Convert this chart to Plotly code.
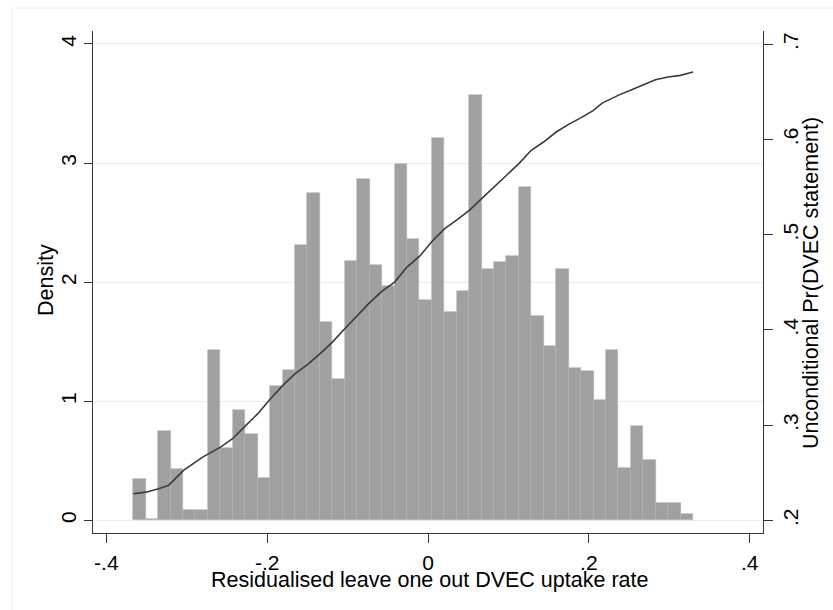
import plotly.graph_objects as go

# ---- data ----
bin_start = -0.3665
bin_width = 0.01547
density = [0.345, 0.01, 0.751, 0.434, 0.084, 0.09, 1.429, 0.608, 0.924, 0.728,
           0.356, 1.126, 1.266, 2.314, 2.745, 1.667, 1.185, 2.176, 2.866, 2.148,
           1.966, 2.989, 2.359, 1.851, 3.214, 1.751, 1.927, 3.571, 2.115, 2.168,
           2.216, 2.798, 1.714, 1.462, 2.115, 1.280, 1.255, 1.008, 1.429, 0.443,
           0.793, 0.504, 0.146, 0.146, 0.050]

line_x = [-0.3665, -0.3507, -0.335, -0.3226, -0.304, -0.2803, -0.258, -0.2431,
          -0.2265, -0.2116, -0.1959, -0.1805, -0.1652, -0.1495, -0.1342, -0.1189,
          -0.1035, -0.0878, -0.0725, -0.0571, -0.0414, -0.0261, -0.0104, 0.0054,
          0.0207, 0.0364, 0.0513, 0.0667, 0.082, 0.0977, 0.113, 0.1284, 0.1437,
          0.1594, 0.1748, 0.1905, 0.2058, 0.2166, 0.2364, 0.2518, 0.2675, 0.2828,
          0.2985, 0.3139, 0.3296]
line_pr = [0.228, 0.2297, 0.2333, 0.2368, 0.2525, 0.2665, 0.277, 0.2858,
           0.2998, 0.3121, 0.3278, 0.3418, 0.3541, 0.3639, 0.3751, 0.3873,
           0.4013, 0.4153, 0.4287, 0.4409, 0.4503, 0.4661, 0.4775, 0.4935,
           0.5064, 0.5159, 0.5256, 0.5379, 0.5501, 0.5624, 0.5747, 0.5887, 0.5974,
           0.6079, 0.616, 0.623, 0.6307, 0.6383, 0.6464, 0.6517, 0.6577, 0.6629,
           0.6657, 0.6674, 0.6709]

x_ticks = [-0.4, -0.2, 0, 0.2, 0.4]
x_ticktext = ["-.4", "-.2", "0", ".2", ".4"]
y_ticks = [0, 1, 2, 3, 4]
y_ticktext = ["0", "1", "2", "3", "4"]
y2_ticks = [0.2, 0.3, 0.4, 0.5, 0.6, 0.7]
y2_ticktext = [".2", ".3", ".4", ".5", ".6", ".7"]

x_title = "Residualised leave one out DVEC uptake rate"
y_title = "Density"
y2_title = "Unconditional Pr(DVEC statement)"

# ---- figure ----
centers = [bin_start + (i + 0.5) * bin_width for i in range(len(density))]

FONT = "Liberation Sans, Arial, sans-serif"
AX = "#333333"
L, R, T, B, W, H = 93, 70, 31, 77, 833, 610
PW, PH = W - L - R, H - T - B


def px_x(x):
    return (x - L) / PW


def px_y(y):
    return (H - B - y) / PH


fig = go.Figure()
fig.add_trace(go.Bar(
    x=centers, y=density, width=bin_width,
    marker=dict(color="#a0a0a0", line=dict(color="#b4b4b4", width=0.6)),
    showlegend=False, hoverinfo="skip",
))
fig.add_trace(go.Scatter(
    x=line_x, y=line_pr, yaxis="y2", mode="lines",
    line=dict(color="#3a3a3a", width=1.6),
    showlegend=False,
))

fig.update_layout(
    width=W, height=H,
    margin=dict(l=L, r=R, t=T, b=B, autoexpand=False),
    paper_bgcolor="white", plot_bgcolor="white",
    font=dict(family=FONT, color="black", size=20),
    bargap=0,
    xaxis=dict(
        range=[-0.4166, 0.4166], tickvals=x_ticks, ticktext=x_ticktext,
        showgrid=False, zeroline=False, showline=True, linecolor=AX, linewidth=1,
        ticks="outside", ticklen=9, tickcolor=AX, tickwidth=1,
        tickfont=dict(size=21), ticklabelstandoff=2, automargin=False,
    ),
    yaxis=dict(
        range=[-0.1057, 4.109], tickvals=y_ticks, ticktext=y_ticktext,
        showgrid=True, gridcolor="#e6f0f1", gridwidth=1, zeroline=False,
        showline=True, linecolor=AX, linewidth=1,
        ticks="outside", ticklen=8, tickcolor=AX, tickwidth=1,
        tickangle=-90, tickfont=dict(size=21), ticklabelstandoff=0, automargin=False,
    ),
    yaxis2=dict(
        range=[0.1868, 0.714], tickvals=y2_ticks, ticktext=y2_ticktext,
        overlaying="y", side="right",
        showgrid=False, zeroline=False, showline=True, linecolor=AX, linewidth=1,
        ticks="outside", ticklen=9, tickcolor=AX, tickwidth=1,
        tickangle=-90, tickfont=dict(size=21), ticklabelstandoff=0, automargin=False,
    ),
    annotations=[
        dict(text=x_title, xref="paper", yref="paper", x=px_x(429), y=px_y(580),
             xanchor="center", yanchor="middle", showarrow=False,
             font=dict(size=21.5)),
        dict(text=y_title, xref="paper", yref="paper", x=px_x(46), y=px_y(280),
             xanchor="center", yanchor="middle", showarrow=False, textangle=-90,
             font=dict(size=21.5)),
        dict(text=y2_title, xref="paper", yref="paper", x=px_x(811), y=px_y(283),
             xanchor="center", yanchor="middle", showarrow=False, textangle=-90,
             font=dict(size=21.5)),
    ],
    shapes=[dict(type="rect", xref="paper", yref="paper",
                 x0=px_x(12), x1=px_x(900), y0=px_y(700), y1=px_y(8),
                 line=dict(color="#eeeeee", width=1), fillcolor="rgba(0,0,0,0)",
                 layer="below")],
)

fig.write_html("out.html", config={"displayModeBar": False},
               post_script="document.body.style.margin='0';")
